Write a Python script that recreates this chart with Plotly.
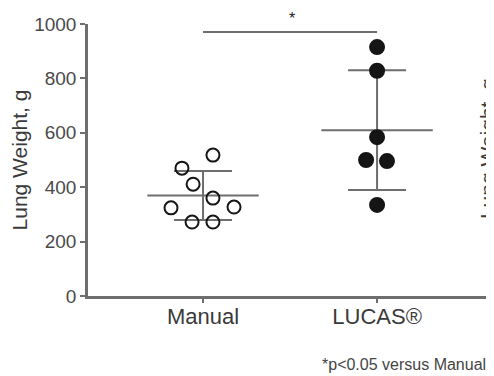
import numpy as np
import plotly.graph_objects as go

categories = ["Manual", "LUCAS®"]
manual_values = [518, 470, 411, 360, 324, 327, 272, 272]
manual_jitter = [0.057, -0.121, -0.057, 0.057, -0.184, 0.178, -0.063, 0.057]
lucas_values = [915, 828, 584, 500, 496, 335]
lucas_jitter = [0.0, 0.0, 0.0, -0.063, 0.057, 0.0]
y_ticks = [0, 200, 400, 600, 800, 1000]

groups = [
    (manual_values, manual_jitter, "circle-open"),
    (lucas_values, lucas_jitter, "circle"),
]

axis_color = "#6e6e6e"
text_color = "#3a3a3a"
font_fam = "Liberation Sans, Arial, sans-serif"

fig = go.Figure()

for i, (vals, jit, sym) in enumerate(groups):
    v = np.array(vals, dtype=float)
    m = v.mean()
    sd = v.std(ddof=1)
    fig.add_trace(go.Scatter(
        x=[i], y=[m], mode="markers",
        marker=dict(size=1, color="rgba(0,0,0,0)"),
        error_y=dict(type="data", array=[sd], visible=True, color=axis_color,
                     thickness=2, width=29),
        showlegend=False, hoverinfo="skip"))
    fig.add_trace(go.Scatter(
        x=[i - 0.32, i + 0.32], y=[m, m], mode="lines",
        line=dict(color=axis_color, width=2),
        showlegend=False, hoverinfo="skip"))
    fig.add_trace(go.Scatter(
        x=[i + j for j in jit], y=vals, mode="markers",
        marker=dict(symbol=sym, size=14 if sym == "circle" else 13,
                    color="#151515", line=dict(color="#151515", width=2)),
        showlegend=False))

# significance bar
fig.add_trace(go.Scatter(
    x=[0, 1], y=[971, 971], mode="lines",
    line=dict(color=axis_color, width=2),
    showlegend=False, hoverinfo="skip", cliponaxis=False))

fig.add_annotation(x=0.51, y=971, text="*", showarrow=False, yshift=13,
                   font=dict(size=16, color="#222", family=font_fam))

fig.add_annotation(x=1.0, xref="paper", xanchor="right", xshift=-2,
                   y=-0.25, yref="paper", yanchor="middle",
                   text="*p<0.05 versus Manual", showarrow=False,
                   font=dict(size=16, color="#444", family=font_fam))

# partial label of the neighbouring panel (cut off by the image edge)
fig.add_annotation(x=1.0, xref="paper", xanchor="center", xshift=-3,
                   y=0.54, yref="paper", yanchor="middle",
                   text="Lung Weight, g", textangle=-90, showarrow=False,
                   font=dict(size=21, color=text_color, family=font_fam))

fig.update_layout(
    width=486, height=368,
    margin=dict(l=80, r=4, t=16, b=80),
    plot_bgcolor="white", paper_bgcolor="white",
    font=dict(family=font_fam, color=text_color),
    xaxis=dict(range=[-0.661, 1.649], tickvals=[0, 1], ticktext=categories,
               showline=True, linecolor=axis_color, linewidth=2.5,
               ticks="outside", ticklen=4, tickwidth=1.5, tickcolor=axis_color,
               ticklabelstandoff=-5,
               showgrid=False, zeroline=False,
               tickfont=dict(size=22, color=text_color)),
    yaxis=dict(range=[0, 1000], tickvals=y_ticks,
               showline=True, linecolor=axis_color, linewidth=2.5,
               ticks="outside", ticklen=5, tickwidth=1.5, tickcolor=axis_color,
               showgrid=False, zeroline=False,
               tickfont=dict(size=19, color="#4a4a4a"),
               title=dict(text="Lung Weight, g",
                          font=dict(size=21, color=text_color), standoff=4)),
)

fig.write_html("out.html")
